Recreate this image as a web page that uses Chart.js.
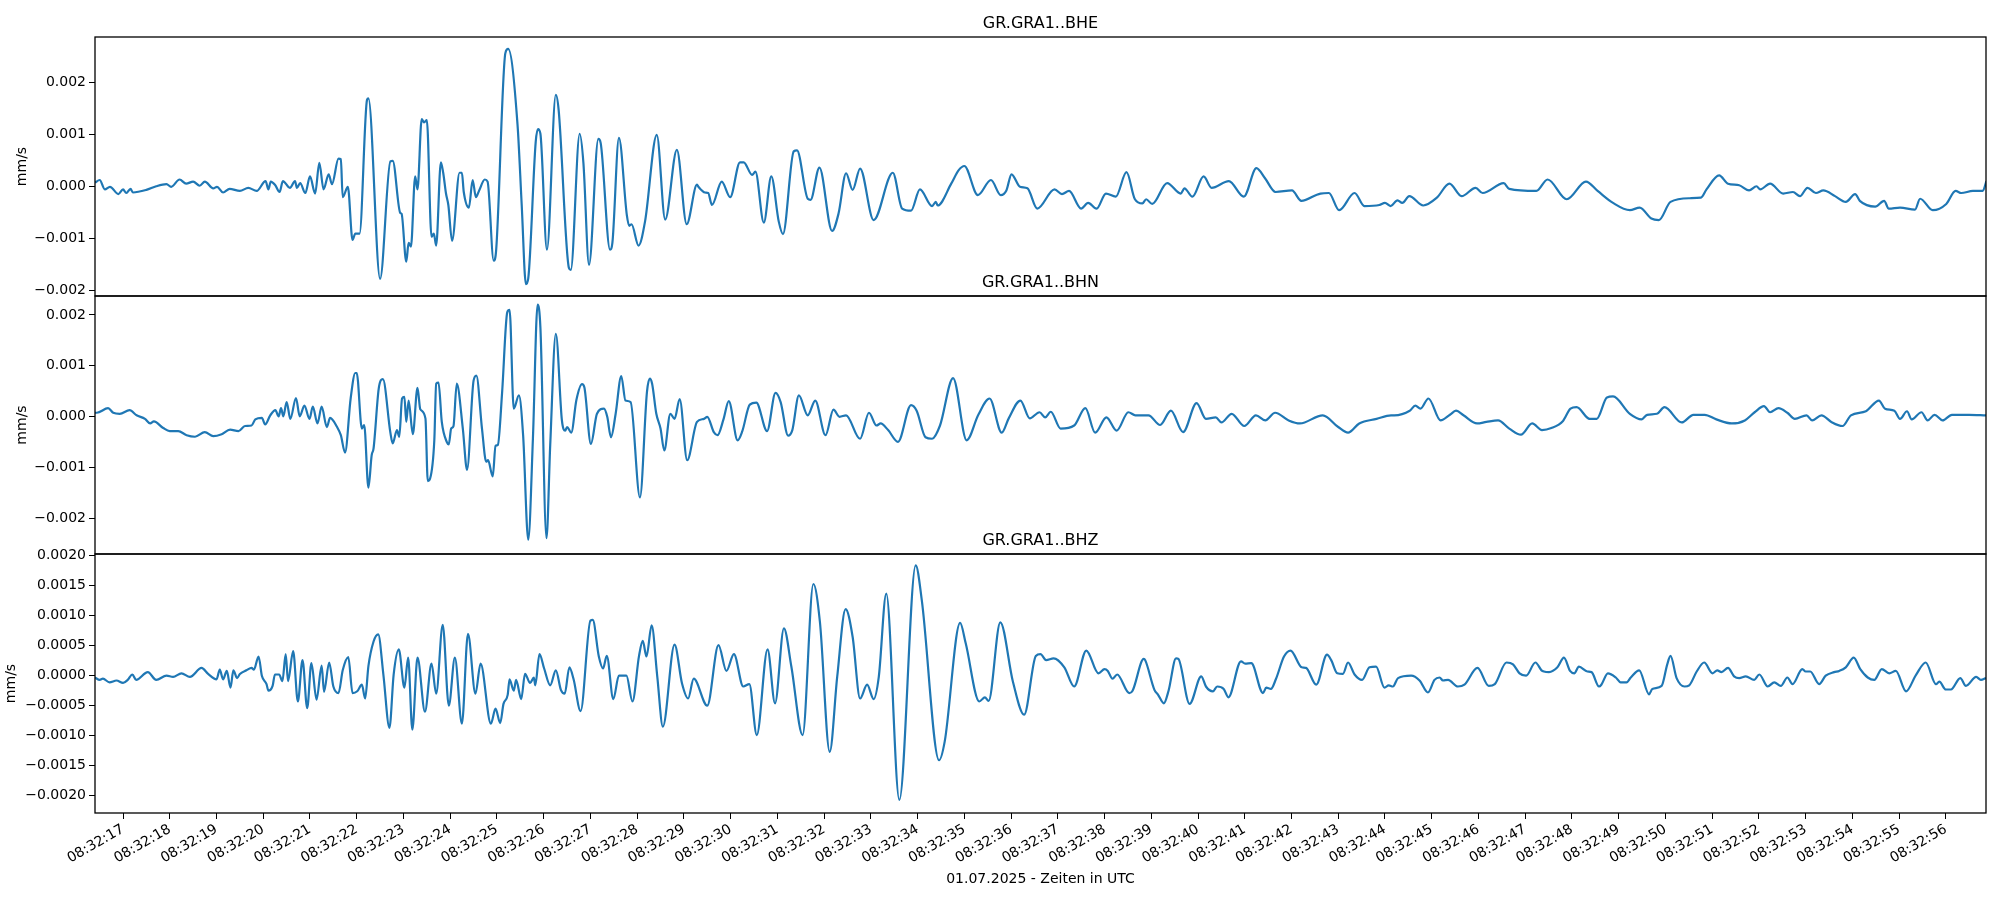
<!DOCTYPE html>
<html><head><meta charset="utf-8">
<script src="https://cdn.jsdelivr.net/npm/chart.js@4/dist/chart.umd.min.js"></script>
<style>
html,body{margin:0;padding:0;background:#fff;}
.w{position:absolute;left:0;top:0;width:2000px;height:900px;}
</style></head><body>
<div class="w"><canvas id="c1"></canvas></div>
<div class="w"><canvas id="c2"></canvas></div>
<div class="w"><canvas id="c3"></canvas></div>
<script>
// Traces: times in seconds after 08:32:00, values in 10^-3 mm/s
const titles = ["GR.GRA1..BHE","GR.GRA1..BHN","GR.GRA1..BHZ"];
const xLabel = "01.07.2025 - Zeiten in UTC";
const yLabel = "mm/s";
const xMin = 16.40, xMax = 56.86;
const tickSeconds = [17,18,19,20,21,22,23,24,25,26,27,28,29,30,31,32,33,34,35,36,37,38,39,40,41,42,43,44,45,46,47,48,49,50,51,52,53,54,55,56];

const bheT = [16.40,16.5,16.61,16.72,16.9,17.0,17.07,17.16,17.21,17.5,17.71,17.93,18.03,18.21,18.35,18.5,18.64,18.75,18.93,19.01,19.14,19.28,19.5,19.68,19.86,20.05,20.11,20.16,20.25,20.35,20.42,20.57,20.68,20.72,
20.79,20.9,21.0,21.11,21.2,21.29,21.4,21.47,21.61,21.66,21.7,21.81,21.91,21.97,22.06,22.22,22.25,22.5,22.72,22.77,22.93,22.96,23.06,23.11,23.16,23.25,23.3,23.39,23.44,23.5,23.6,23.65,23.7,23.8,23.85,23.91,23.96,24.04,24.2,24.25,24.29,24.4,24.48,24.55,24.62,24.74,24.8,24.93,24.98,25.18,25.24,25.44,25.53,25.62,25.67,25.83,25.88,25.93,26.07,26.26,26.32,26.54,26.58,26.77,26.85,26.97,27.17,27.22,27.42,27.47,27.61,27.78,27.83,27.88,28.03,28.17,28.42,28.6,28.85,29.06,29.28,29.31,29.45,29.52,29.6,29.81,29.99,30.2,30.28,30.46,30.53,30.71,30.87,31.03,31.12,31.35,31.42,
31.65,31.71,31.9,32.17,32.31,32.47,32.61,32.77,33.06,33.47,33.67,33.86,34.05,34.31,34.39,34.43,34.72,34.88,35.0,35.29,35.57,35.78,35.9,36.01,36.19,36.35,36.56,36.93,37.09,37.24,37.5,37.65,37.83,38.03,38.24,38.47,38.65,38.81,38.89,39.02,39.34,39.63,39.71,39.88,40.12,40.29,40.66,40.98,41.25,41.43,41.66,42.01,42.21,42.62,42.8,43.02,43.35,43.56,43.88,44.0,
44.12,44.27,44.37,44.52,44.82,45.11,45.38,45.64,45.94,46.09,46.54,46.66,47.24,47.48,47.89,48.3,48.55,48.88,49.24,49.45,49.7,49.86,50.11,50.52,50.76,50.88,51.15,51.34,51.58,51.79,51.95,52.03,52.24,52.52,52.73,52.88,53.04,53.22,53.38,53.63,53.86,54.06,54.16,54.49,54.68,54.78,55.02,55.34,55.45,55.72,56.01,56.21,56.33,56.58,56.79,56.87];
const bheV = [0.08,0.13,-0.05,0.0,-0.14,-0.05,-0.12,-0.04,-0.11,-0.06,0.01,0.05,0.0,0.14,0.06,0.10,0.02,0.10,-0.03,0.0,-0.11,-0.04,-0.08,-0.02,-0.08,0.11,-0.05,0.10,0.04,-0.10,0.11,-0.02,0.11,-0.02,
0.07,-0.12,0.20,-0.13,0.46,-0.05,0.24,0.05,0.54,0.53,-0.20,0.0,-1.02,-0.90,-0.90,1.67,1.70,-1.77,0.49,0.50,-0.50,-0.52,-1.44,-1.08,-1.15,0.20,-0.05,1.30,1.24,1.28,-0.96,-0.90,-1.13,0.47,0.27,-0.13,-0.35,-1.04,0.27,0.27,-0.10,-0.40,0.13,-0.20,-0.07,0.14,0.10,-1.42,-1.25,2.57,2.65,1.20,-0.35,-1.87,-1.76,0.87,1.11,1.02,-1.21,1.77,1.48,-1.56,-1.60,1.02,0.46,-1.50,0.92,0.84,-1.21,-1.08,0.94,-0.55,-0.75,-0.72,-1.13,-0.66,1.00,-0.63,0.71,-0.72,0.04,0.0,-0.11,-0.12,-0.35,0.10,-0.20,0.47,0.47,0.23,0.29,-0.69,0.20,-0.67,-0.91,0.68,0.70,
-0.23,-0.25,0.37,-0.85,-0.51,0.26,-0.06,0.35,-0.64,0.27,-0.42,-0.46,-0.05,-0.37,-0.29,-0.36,0.06,0.32,0.40,-0.16,0.13,-0.16,-0.07,0.24,0.0,-0.03,-0.42,-0.05,-0.14,-0.08,-0.42,-0.31,-0.42,-0.13,-0.19,0.28,-0.24,-0.32,-0.24,-0.33,0.07,-0.13,-0.03,-0.19,0.20,-0.02,0.11,-0.19,0.36,0.17,-0.10,-0.07,-0.27,-0.13,-0.12,-0.45,-0.12,-0.37,-0.35,-0.31,
-0.37,-0.26,-0.31,-0.18,-0.36,-0.21,0.06,-0.18,-0.02,-0.12,0.07,-0.04,-0.08,0.14,-0.24,0.10,-0.08,-0.31,-0.45,-0.40,-0.61,-0.64,-0.29,-0.22,-0.21,-0.05,0.22,0.06,0.03,-0.07,0.01,-0.05,0.06,-0.13,-0.10,-0.18,-0.02,-0.12,-0.07,-0.18,-0.29,-0.14,-0.27,-0.38,-0.27,-0.42,-0.40,-0.44,-0.23,-0.45,-0.33,-0.08,-0.12,-0.08,-0.08,0.11];

const bhnT = [16.40,16.44,16.68,16.79,16.93,17.14,17.29,17.47,17.58,17.66,17.86,18.0,18.18,18.36,18.54,18.75,18.93,19.11,19.29,19.47,19.61,19.75,19.83,19.97,20.04,20.15,20.26,20.33,20.38,20.43,20.5,20.58,20.7,20.78,
20.88,20.99,21.06,21.16,21.25,21.36,21.43,21.58,21.66,21.75,21.87,21.97,22.0,22.11,22.16,22.25,22.32,22.36,22.47,22.56,22.72,22.77,22.86,22.91,22.97,23.02,23.06,23.11,23.2,23.3,23.36,23.47,23.52,23.57,23.66,23.7,23.75,23.82,23.93,23.97,24.02,24.07,24.14,24.27,24.36,24.5,24.56,24.68,24.77,24.81,24.91,24.97,25.02,25.11,25.22,25.27,25.36,25.47,25.56,25.67,25.77,25.87,25.93,26.06,26.14,26.26,26.39,26.46,26.5,26.59,26.7,26.82,26.87,27.01,27.14,27.29,27.36,27.44,27.54,27.66,27.75,27.86,28.06,28.21,28.27,28.32,28.41,28.5,28.58,28.71,28.8,28.91,29.07,29.28,29.43,29.5,29.64,29.72,29.85,29.96,30.15,30.25,30.41,30.55,30.78,30.96,31.07,31.23,31.32,31.46,
31.65,31.81,32.03,32.2,32.33,32.47,32.77,32.96,33.12,33.21,33.37,33.58,33.86,33.98,34.17,34.31,34.48,34.76,35.05,35.3,35.54,35.8,35.95,36.2,36.4,36.61,36.73,36.85,37.06,37.35,37.59,37.8,38.04,38.26,38.51,38.66,38.94,39.19,39.42,39.68,39.97,40.17,40.38,40.5,40.72,40.99,41.24,41.44,41.65,41.94,42.18,42.67,43.0,43.21,43.45,43.82,44.13,
44.2,44.53,44.65,44.76,44.93,45.19,45.39,45.52,45.68,45.97,46.17,46.42,46.66,46.91,47.15,47.36,47.56,47.81,47.97,48.1,48.38,48.53,48.75,48.88,49.24,49.49,49.61,49.82,49.98,50.35,50.6,50.84,51.09,51.42,51.7,51.91,52.11,52.24,52.42,52.61,52.77,53.02,53.14,53.34,53.55,53.79,53.97,54.29,54.57,54.7,54.9,55.02,55.17,55.27,55.48,55.61,55.76,55.93,56.13,56.5,56.86];
const bhnV = [0.08,0.08,0.17,0.08,0.06,0.13,0.03,-0.04,-0.13,-0.09,-0.22,-0.28,-0.28,-0.36,-0.39,-0.30,-0.38,-0.34,-0.25,-0.28,-0.18,-0.17,-0.05,-0.02,-0.15,0.03,0.13,0.01,0.17,0.01,0.29,-0.04,0.37,0.01,
0.22,-0.04,0.20,-0.13,0.20,-0.20,-0.02,-0.20,-0.36,-0.70,0.36,0.86,0.86,-0.23,-0.16,-1.39,-0.75,-0.62,0.55,0.74,-0.31,-0.52,-0.26,-0.39,0.36,0.39,-0.10,0.32,-0.34,0.57,0.15,-0.03,-1.26,-1.21,-0.46,0.65,0.67,-0.10,-0.50,-0.54,-0.23,-0.18,0.65,-0.23,-1.04,0.71,0.81,-0.23,-0.88,-0.85,-1.17,-0.57,-0.55,0.47,2.05,2.10,0.16,0.42,-0.36,-2.41,-0.42,2.20,1.75,-2.38,-0.55,1.63,-0.07,-0.27,-0.20,-0.31,0.33,0.64,0.58,-0.53,0.06,0.16,0.0,-0.40,0.06,0.80,0.32,0.29,-1.58,0.49,0.75,0.65,0.06,-0.23,-0.66,0.06,-0.04,0.35,-0.85,-0.10,-0.04,0.0,-0.30,-0.36,-0.04,0.31,-0.46,-0.28,0.24,0.28,-0.28,0.47,0.29,-0.37,-0.26,0.42,
0.03,0.32,-0.36,0.14,0.0,0.03,-0.43,0.08,-0.17,-0.13,-0.26,-0.49,0.23,0.12,-0.40,-0.43,-0.17,0.76,-0.46,0.04,0.36,-0.31,-0.03,0.32,-0.03,0.09,-0.01,0.10,-0.23,-0.17,0.17,-0.31,-0.01,-0.27,0.09,0.03,0.03,-0.16,0.12,-0.30,0.27,-0.04,-0.01,-0.11,0.06,-0.18,0.03,-0.07,0.08,-0.07,-0.13,0.03,-0.20,-0.31,-0.13,-0.04,0.03,
0.03,0.12,0.22,0.16,0.36,-0.07,0.04,0.12,0.03,-0.13,-0.10,-0.07,-0.23,-0.35,-0.13,-0.26,-0.22,-0.08,0.16,0.19,-0.04,-0.04,0.38,0.40,0.06,-0.05,0.04,0.06,0.19,-0.11,0.04,0.04,-0.05,-0.13,-0.07,0.09,0.21,0.09,0.17,0.08,-0.04,0.03,-0.07,0.03,-0.10,-0.18,0.03,0.11,0.32,0.16,0.12,-0.04,0.11,-0.05,0.09,-0.07,0.04,-0.07,0.04,0.04,0.03];

const bhzT = [16.40,16.5,16.57,16.71,16.86,17.0,17.1,17.2,17.28,17.53,17.71,17.93,18.07,18.25,18.43,18.68,18.82,19.0,19.07,19.14,19.22,19.3,19.36,19.44,19.5,19.64,19.75,19.8,19.9,19.97,20.07,20.11,20.2,20.25,20.34,20.41,20.48,20.53,20.64,20.74,20.84,20.94,21.03,21.14,21.25,21.3,21.41,21.5,21.61,21.7,21.82,21.91,22.01,22.11,22.18,22.25,22.36,22.46,22.57,22.7,22.79,22.9,
23.02,23.1,23.19,23.3,23.46,23.6,23.7,23.84,23.97,24.1,24.25,24.38,24.54,24.65,24.87,24.97,
25.07,25.14,25.23,25.27,25.36,25.41,25.52,25.6,25.71,25.79,25.82,25.91,26.01,26.14,26.26,26.37,26.45,26.55,26.64,26.79,27.0,27.05,27.18,27.27,27.35,27.49,27.61,27.77,27.9,28.04,28.12,28.2,28.31,28.43,28.55,28.8,28.96,29.09,29.21,29.5,29.74,29.91,30.07,30.27,30.4,30.56,30.79,30.95,31.14,31.3,31.54,31.77,31.91,32.12,32.28,32.46,32.61,32.77,32.92,33.06,33.17,33.33,33.61,33.96,34.09,34.46,34.58,34.91,35.03,35.32,35.44,35.52,35.77,36.04,36.28,36.53,36.63,36.75,36.91,37.14,37.35,37.61,37.87,
38.0,38.07,38.17,38.27,38.53,38.6,38.84,38.87,39.07,39.14,39.27,39.37,39.53,39.58,39.82,40.07,40.17,40.32,40.41,40.55,40.65,40.92,41.01,41.14,41.39,41.46,41.56,41.67,41.84,41.98,42.22,42.31,42.53,42.76,42.85,42.98,43.1,43.21,43.35,43.51,43.67,43.81,43.99,44.08,44.17,44.28,44.56,44.74,44.92,45.06,45.17,45.24,45.35,45.56,45.7,45.98,46.22,46.35,46.6,46.74,46.88,47.02,47.22,47.35,
47.4,47.51,47.69,47.83,47.96,48.05,48.15,48.33,48.42,48.58,48.63,48.77,48.94,49.04,49.17,49.26,49.44,49.65,49.72,49.92,50.04,50.11,50.24,50.41,50.51,50.67,50.83,51.01,51.11,51.2,51.34,51.47,51.58,51.72,51.9,52.01,52.19,52.33,52.47,52.61,52.72,52.93,53.0,53.1,53.29,53.43,53.61,53.72,53.86,54.03,54.17,54.33,54.47,54.63,54.79,54.93,55.15,55.36,55.57,55.79,55.86,56.0,56.11,56.31,56.43,56.65,56.75,56.86];
const bhzV = [-0.03,-0.07,-0.05,-0.11,-0.08,-0.12,-0.07,0.02,-0.07,0.06,-0.07,0.0,-0.02,0.04,-0.02,0.13,0.03,-0.06,0.10,-0.06,0.08,-0.20,0.09,-0.04,0.03,0.09,0.13,0.10,0.32,0.0,-0.14,-0.25,-0.17,0.02,0.02,-0.09,0.36,-0.09,0.41,-0.43,0.26,-0.54,0.21,-0.40,0.17,-0.27,0.22,-0.18,-0.29,0.09,0.31,-0.29,-0.26,-0.15,-0.38,0.16,0.57,0.69,0.02,-0.87,0.02,0.44,
-0.20,0.30,-0.90,0.30,-0.60,0.20,-0.30,0.85,-0.50,0.30,-0.80,0.70,-0.30,0.20,-0.80,-0.55,
-0.79,-0.47,-0.32,-0.06,-0.25,-0.07,-0.39,0.03,-0.12,-0.03,-0.16,0.36,0.12,-0.16,0.09,-0.24,-0.30,0.14,-0.06,-0.59,0.92,0.93,0.32,0.12,0.33,-0.39,0.0,0.0,-0.43,0.33,0.58,0.32,0.84,-0.01,-0.85,0.52,-0.13,-0.38,-0.05,-0.50,0.51,0.08,0.36,-0.18,-0.14,-0.99,0.44,-0.46,0.79,0.15,-0.99,1.53,0.90,-1.27,-0.02,1.11,0.65,-0.38,-0.15,-0.39,-0.02,1.37,-2.07,1.84,1.26,-1.41,-1.10,0.88,0.54,-0.43,-0.36,-0.42,0.89,-0.10,-0.65,0.33,0.36,0.26,0.29,0.14,-0.18,0.42,0.04,
0.11,0.08,-0.05,0.02,-0.29,-0.25,0.28,0.26,-0.24,-0.31,-0.46,-0.25,0.29,0.28,-0.47,-0.01,-0.18,-0.26,-0.18,-0.22,-0.36,0.24,0.20,0.21,-0.29,-0.20,-0.22,-0.05,0.32,0.42,0.14,0.13,-0.15,0.35,0.26,0.04,0.03,0.22,0.02,-0.07,0.14,0.15,-0.20,-0.16,-0.18,-0.04,0.0,-0.08,-0.28,-0.07,-0.03,-0.08,-0.07,-0.18,-0.15,0.13,-0.17,-0.14,0.22,0.19,0.04,0.0,0.22,0.09,
0.07,0.06,0.14,0.30,0.08,0.04,0.15,0.07,0.06,-0.18,-0.15,0.04,-0.03,-0.11,-0.11,-0.03,0.09,-0.31,-0.22,-0.17,0.19,0.33,-0.04,-0.18,-0.16,0.07,0.22,0.04,0.09,0.06,0.13,-0.01,-0.04,-0.01,-0.07,0.02,-0.18,-0.11,-0.17,-0.03,-0.14,0.11,0.07,0.07,-0.14,0.0,0.06,0.08,0.14,0.30,0.11,-0.03,-0.07,0.11,0.04,0.08,-0.26,0.01,0.22,-0.14,-0.10,-0.23,-0.23,-0.04,-0.17,-0.02,-0.07,-0.04];

const yRanges = [[-2.10,2.88],[-2.69,2.37],[-2.29,2.03]];
const yStep = [1,1,0.5];
const yDecimals = [3,3,4];
const panelTop = [37,296,554];
const panelBottomPad = [604,346,0];
const yTitleInset = [14,14,3];

const FONT = "DejaVu Sans";
Chart.defaults.font.family = FONT;
Chart.defaults.color = "#000";
const boxPlugin = {
  id:'box',
  afterDraw(chart, args, opts){
    const a = chart.chartArea, c = chart.ctx;
    c.save(); c.strokeStyle='#000'; c.lineWidth=1.3;
    c.strokeRect(a.left, a.top, a.right-a.left, a.bottom-a.top);
    c.fillStyle='#000'; c.font='16px '+FONT; c.textAlign='center'; c.textBaseline='bottom';
    c.fillText(opts.title, (a.left+a.right)/2, a.top-5);
    c.restore();
  }
};
function pts(T,V){ return T.map((t,i)=>({x:t, y:V[i]*1e-3})); }
function fmt(v,d){ const s=Math.abs(v).toFixed(d); return (v< -1e-12 ? "\u2212" : "") + s; }
function make(id, T, V, k){
  const last = k===2;
  return new Chart(document.getElementById(id), {
    type:'line',
    data:{datasets:[{data:pts(T,V), borderColor:'#1f77b4', borderWidth:2.2, pointRadius:0, cubicInterpolationMode:'monotone', fill:false}]},
    plugins:[boxPlugin],
    options:{
      responsive:true, maintainAspectRatio:false, animation:false, parsing:false,
      layout:{padding:{top:panelTop[k], right:14, left:0, bottom:panelBottomPad[k]}},
      plugins:{legend:{display:false}, tooltip:{enabled:false}, box:{title:titles[k]}},
      scales:{
        x:{type:'linear', min:xMin, max:xMax, display:last,
           afterBuildTicks(ax){ ax.ticks = tickSeconds.map(v=>({value:v})); },
           afterFit(ax){ if(last) ax.height = 87; },
           grid:{drawOnChartArea:false, drawTicks:true, tickLength:6, color:'#000'},
           border:{display:false},
           ticks:{minRotation:30, maxRotation:30, autoSkip:false, font:{size:14}, padding:2,
                  callback:v=>"08:32:"+String(v).padStart(2,'0')},
           title:{display:last, text:xLabel, font:{size:14}, padding:{top:0,bottom:12}}},
        y:{type:'linear', min:yRanges[k][0]*1e-3, max:yRanges[k][1]*1e-3,
           afterBuildTicks(ax){ const t=[]; const s=yStep[k]; for(let v=Math.ceil(yRanges[k][0]/s)*s; v<=yRanges[k][1]+1e-9; v+=s) t.push({value:Math.round(v*1e4)/1e7}); ax.ticks=t; },
           afterFit(ax){ ax.width = 95; },
           grid:{drawOnChartArea:false, drawTicks:true, tickLength:6, color:'#000'},
           border:{display:false},
           ticks:{font:{size:14}, padding:3, callback:v=>fmt(v,yDecimals[k])},
           title:{display:true, text:yLabel, font:{size:14}, padding:{top:yTitleInset[k],bottom:4}}}
      }
    }
  });
}
make('c1', bheT, bheV, 0);
make('c2', bhnT, bhnV, 1);
make('c3', bhzT, bhzV, 2);
</script></body></html>
